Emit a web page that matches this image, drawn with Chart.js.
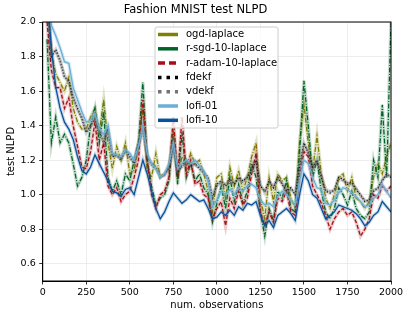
<!DOCTYPE html>
<html>
<head>
<meta charset="utf-8">
<script src="https://cdn.jsdelivr.net/npm/chart.js@4.4.0/dist/chart.umd.min.js"></script>
<style>
  body { margin: 0; background: #fff; }
</style>
</head>
<body>
<canvas id="chart" width="411" height="318"></canvas>
<script>
// number of observations seen
const observations = [25, 50, 75, 100, 125, 150, 175, 200, 225, 250, 275, 300, 325, 350, 375, 400,
  425, 450, 475, 500, 525, 550, 575, 600, 625, 650, 675, 700, 725, 750, 775, 800,
  825, 850, 875, 900, 925, 950, 975, 1000, 1025, 1050, 1075, 1100, 1125, 1150, 1175, 1200,
  1225, 1250, 1275, 1300, 1325, 1350, 1375, 1400, 1425, 1450, 1475, 1500, 1525, 1550, 1575, 1600,
  1625, 1650, 1675, 1700, 1725, 1750, 1775, 1800, 1825, 1850, 1875, 1900, 1925, 1950, 1975, 2000];

const ogdLaplace = [2.15, 1.82, 1.70, 1.65, 1.60, 1.68, 1.50, 1.42, 1.38, 1.38, 1.45, 1.50, 1.36, 1.55, 1.30, 1.15,
  1.28, 1.20, 1.30, 1.12, 1.14, 1.28, 1.50, 1.14, 1.10, 1.24, 1.10, 1.12, 1.15, 1.38, 1.10, 1.22,
  1.16, 1.24, 1.18, 1.20, 1.12, 1.02, 0.90, 1.10, 1.12, 0.98, 1.16, 1.05, 1.14, 1.02, 1.10, 1.22,
  1.30, 0.98, 0.86, 1.10, 0.96, 1.12, 1.08, 1.10, 0.98, 0.92, 1.30, 1.52, 1.30, 1.14, 1.34, 1.12,
  0.98, 0.92, 1.00, 1.10, 1.12, 1.02, 1.10, 0.98, 0.96, 0.92, 0.96, 1.10, 1.18, 1.12, 1.22, 1.30];

const rSgdLaplace = [1.90, 1.30, 1.45, 1.30, 1.35, 1.30, 1.18, 1.05, 1.10, 1.20, 1.40, 1.50, 1.30, 1.48, 1.10, 1.02,
  1.08, 1.00, 1.12, 1.08, 1.20, 1.30, 1.65, 1.20, 1.05, 0.94, 0.98, 1.00, 1.08, 1.35, 1.06, 1.36,
  1.10, 1.18, 1.08, 1.12, 1.04, 1.00, 0.84, 0.95, 1.05, 0.92, 1.10, 0.96, 1.06, 0.95, 1.02, 1.18,
  1.10, 0.90, 0.76, 0.92, 0.85, 1.02, 0.98, 1.08, 0.92, 0.90, 1.25, 1.66, 1.40, 1.10, 1.20, 1.02,
  0.90, 0.86, 0.92, 1.04, 1.00, 0.94, 1.02, 0.92, 0.88, 0.86, 0.90, 1.20, 1.10, 1.52, 1.10, 2.00];

const rAdamLaplace = [2.00, 1.72, 1.62, 1.62, 1.50, 1.56, 1.40, 1.28, 1.16, 1.15, 1.25, 1.42, 1.20, 1.30, 1.05, 1.00,
  1.04, 0.96, 1.00, 1.02, 1.10, 1.20, 1.55, 1.20, 1.00, 0.92, 1.00, 1.02, 1.10, 1.45, 1.10, 1.45,
  1.12, 1.20, 1.06, 1.08, 1.00, 0.98, 0.86, 0.92, 0.96, 0.82, 0.98, 0.92, 1.02, 0.94, 0.98, 1.12,
  1.24, 0.90, 0.82, 0.90, 0.84, 0.98, 0.96, 1.02, 0.90, 0.88, 1.10, 1.25, 1.22, 1.05, 1.00, 0.95,
  0.88, 0.80, 0.86, 0.90, 0.92, 0.88, 0.90, 0.84, 0.76, 0.80, 0.86, 1.00, 0.98, 1.05, 1.02, 1.05];

const fdekf = [2.15, 1.80, 1.84, 1.78, 1.68, 1.66, 1.56, 1.50, 1.44, 1.36, 1.40, 1.44, 1.38, 1.30, 1.38, 1.22,
  1.23, 1.20, 1.26, 1.22, 1.18, 1.30, 1.38, 1.22, 1.18, 1.16, 1.10, 1.12, 1.16, 1.28, 1.13, 1.17,
  1.20, 1.17, 1.18, 1.15, 1.13, 1.10, 0.98, 1.06, 1.08, 1.05, 1.09, 1.06, 1.10, 1.08, 1.10, 1.14,
  1.20, 1.05, 1.02, 1.08, 1.04, 1.10, 1.06, 1.02, 1.04, 1.00, 1.16, 1.30, 1.24, 1.16, 1.20, 1.10,
  1.02, 1.01, 1.03, 1.10, 1.09, 1.06, 1.07, 1.03, 1.00, 0.96, 0.97, 1.02, 1.04, 1.08, 1.12, 1.10];

const vdekf = [2.15, 1.81, 1.83, 1.77, 1.69, 1.65, 1.57, 1.49, 1.45, 1.37, 1.39, 1.45, 1.37, 1.31, 1.37, 1.23,
  1.22, 1.21, 1.25, 1.21, 1.19, 1.29, 1.37, 1.23, 1.17, 1.15, 1.11, 1.11, 1.17, 1.27, 1.14, 1.16,
  1.19, 1.18, 1.17, 1.16, 1.12, 1.09, 0.99, 1.05, 1.07, 1.06, 1.08, 1.07, 1.09, 1.07, 1.11, 1.13,
  1.19, 1.06, 1.01, 1.07, 1.05, 1.09, 1.07, 1.01, 1.03, 1.01, 1.15, 1.29, 1.25, 1.15, 1.19, 1.11,
  1.03, 1.02, 1.02, 1.09, 1.08, 1.07, 1.06, 1.04, 0.99, 0.97, 0.96, 1.03, 1.03, 1.09, 1.11, 1.11];

const lofi01 = [2.15, 1.98, 1.92, 1.85, 1.77, 1.76, 1.62, 1.55, 1.48, 1.42, 1.43, 1.47, 1.38, 1.35, 1.40, 1.24,
  1.23, 1.22, 1.26, 1.24, 1.20, 1.28, 1.40, 1.24, 1.18, 1.15, 1.10, 1.12, 1.18, 1.30, 1.15, 1.18,
  1.20, 1.18, 1.20, 1.17, 1.14, 1.08, 0.93, 0.97, 1.02, 1.00, 1.03, 1.00, 1.04, 1.02, 1.05, 1.06,
  1.04, 0.97, 0.94, 0.95, 0.93, 0.99, 1.02, 1.00, 0.97, 0.94, 1.08, 1.20, 1.18, 1.10, 1.04, 1.03,
  0.95, 0.94, 0.97, 1.01, 1.04, 1.03, 1.01, 0.99, 0.96, 0.93, 0.94, 0.98, 1.00, 1.06, 1.02, 0.98];

const lofi10 = [2.15, 1.85, 1.62, 1.50, 1.42, 1.38, 1.32, 1.22, 1.14, 1.12, 1.16, 1.23, 1.18, 1.13, 1.08, 1.02,
  1.01, 0.99, 1.03, 1.04, 1.00, 1.10, 1.20, 1.12, 1.02, 0.92, 0.86, 0.90, 0.96, 1.01, 0.98, 0.95,
  0.97, 1.00, 0.98, 0.96, 0.97, 0.92, 0.86, 0.87, 0.90, 0.88, 0.91, 0.88, 0.93, 0.91, 0.95, 0.94,
  0.96, 0.88, 0.82, 0.85, 0.81, 0.88, 0.90, 0.92, 0.89, 0.85, 1.00, 1.12, 1.08, 1.00, 0.98, 0.92,
  0.86, 0.88, 0.90, 0.94, 0.93, 0.92, 0.91, 0.89, 0.86, 0.82, 0.84, 0.88, 0.90, 0.96, 0.93, 0.90];

const xTicks = [0, 250, 500, 750, 1000, 1250, 1500, 1750, 2000];
const yTicks = [0.6, 0.8, 1.0, 1.2, 1.4, 1.6, 1.8, 2.0];

const series = [
  { label: 'ogd-laplace', values: ogdLaplace, color: '#808000', band: 'rgba(128,128,0,0.22)', dash: [5, 1.5, 1, 1.5] },
  { label: 'r-sgd-10-laplace', values: rSgdLaplace, color: '#006428', band: 'rgba(0,100,40,0.22)', dash: [5, 1.5, 1, 1.5] },
  { label: 'r-adam-10-laplace', values: rAdamLaplace, color: '#a50f15', band: 'rgba(165,15,21,0.22)', dash: [4, 2] },
  { label: 'fdekf', values: fdekf, color: '#000000', band: 'rgba(0,0,0,0.15)', dash: [1.3, 1.7] },
  { label: 'vdekf', values: vdekf, color: '#737373', band: 'rgba(115,115,115,0.22)', dash: [1.3, 1.7] },
  { label: 'lofi-01', values: lofi01, color: '#6baed6', band: 'rgba(107,174,214,0.3)', dash: [] },
  { label: 'lofi-10', values: lofi10, color: '#08519c', band: 'rgba(8,81,156,0.22)', dash: [] },
];

const toPoints = vals => observations.map((x, i) => ({ x: x, y: vals[i] }));

const datasets = [];
series.forEach((s, i) => {
  datasets.push({
    label: s.label,
    data: toPoints(s.values),
    borderColor: s.color,
    borderWidth: 1.3,
    borderDash: s.dash,
    pointRadius: 0,
    tension: 0,
    order: (6 - i) * 2,
  });
  datasets.push({
    label: s.label + ' band',
    data: toPoints(s.values),
    borderColor: s.band,
    borderWidth: 3.5,
    pointRadius: 0,
    tension: 0,
    order: (6 - i) * 2 + 1,
  });
});

Chart.defaults.font.family = 'DejaVu Sans';
Chart.defaults.color = '#000';

// frame and legend inside the plot, like matplotlib
const framePlugin = {
  id: 'frame',
  afterDraw(chart) {
    const { ctx, chartArea: a } = chart;
    ctx.save();
    ctx.strokeStyle = '#000';
    ctx.lineWidth = 1;
    ctx.strokeRect(a.left, a.top, a.right - a.left, a.bottom - a.top);

    const bx = 155, by = 27, bw = 123, bh = 101;
    ctx.fillStyle = 'rgba(255,255,255,0.8)';
    ctx.strokeStyle = '#cccccc';
    ctx.beginPath();
    ctx.roundRect(bx, by, bw, bh, 2);
    ctx.fill();
    ctx.stroke();

    ctx.font = '10px "DejaVu Sans"';
    ctx.textBaseline = 'middle';
    series.forEach((s, i) => {
      const y = by + 7.5 + i * 14.3;
      ctx.lineWidth = 3.5;
      ctx.strokeStyle = s.color;
      if (s.label === 'r-adam-10-laplace') ctx.setLineDash([7, 4]);
      else if (s.label === 'fdekf' || s.label === 'vdekf') ctx.setLineDash([3.5, 5]);
      else ctx.setLineDash([]);
      ctx.beginPath(); ctx.moveTo(158, y); ctx.lineTo(178, y); ctx.stroke();
      ctx.setLineDash([]);
      ctx.fillStyle = '#000';
      ctx.fillText(s.label, 186, y);
    });
    ctx.restore();
  }
};

new Chart(document.getElementById('chart').getContext('2d'), {
  type: 'line',
  data: { datasets: datasets },
  options: {
    responsive: false,
    animation: false,
    layout: { padding: { left: 0, right: 20, top: 0, bottom: 0 } },
    plugins: {
      legend: { display: false },
      tooltip: { enabled: false },
      title: {
        display: true,
        text: 'Fashion MNIST test NLPD',
        font: { size: 11.5, weight: 'normal' },
        padding: { top: 3, bottom: 5.2 },
      },
    },
    scales: {
      x: {
        type: 'linear',
        min: 0,
        max: 2000,
        afterBuildTicks: s => { s.ticks = xTicks.map(v => ({ value: v })); },
        afterFit: s => { s.height = 37; },
        ticks: { font: { size: 9.5 }, padding: 2, maxRotation: 0, callback: v => String(v) },
        grid: { color: '#e8e8e8', lineWidth: 0.8, tickLength: 3.5, tickColor: '#000' },
        border: { color: '#000' },
        title: { display: true, text: 'num. observations', font: { size: 10 }, padding: { top: 0, bottom: 7 } },
      },
      y: {
        min: 0.5,
        max: 2.0,
        afterBuildTicks: s => { s.ticks = yTicks.map(v => ({ value: v })); },
        afterFit: s => { s.width = 42.7; },
        ticks: { font: { size: 9.5 }, padding: 3.5, callback: v => v.toFixed(1) },
        grid: { color: '#e8e8e8', lineWidth: 0.8, tickLength: 3.5, tickColor: '#000' },
        border: { color: '#000' },
        title: { display: true, text: 'test NLPD', font: { size: 10 }, padding: { top: 5, bottom: 0 } },
      },
    },
  },
  plugins: [framePlugin],
});
</script>
</body>
</html>
